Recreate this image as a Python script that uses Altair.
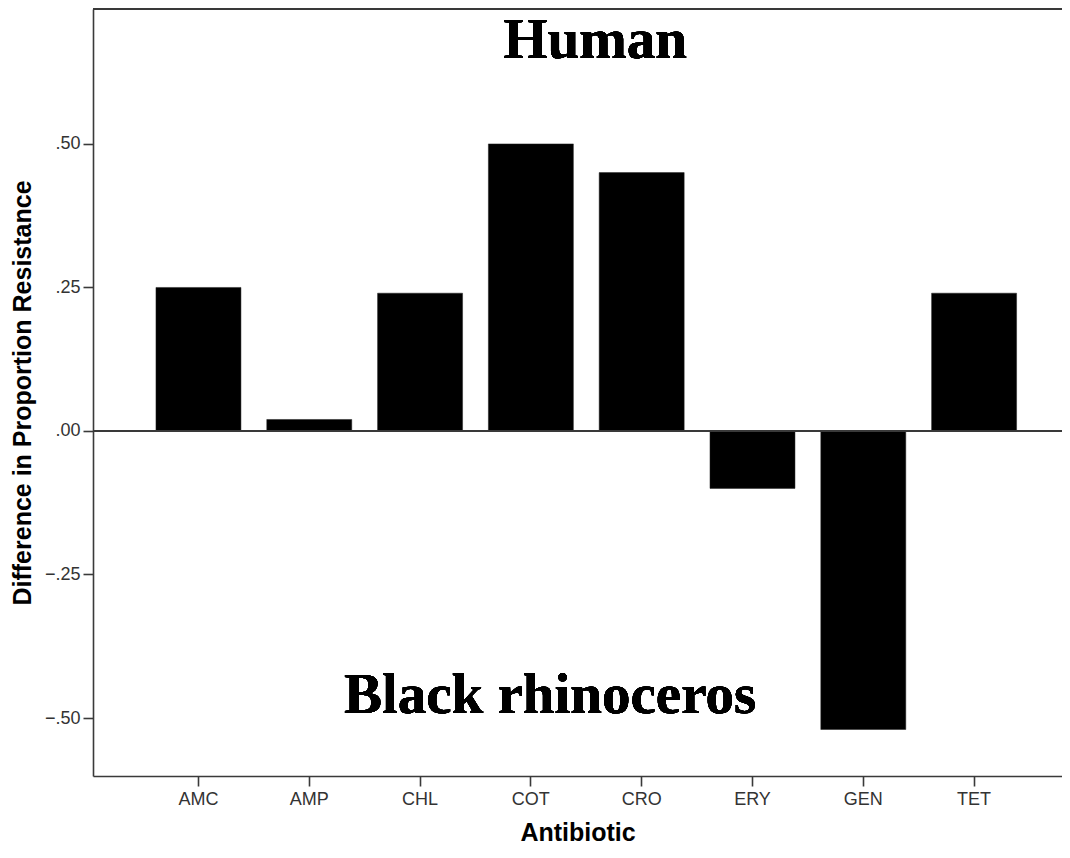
import altair as alt
import pandas as pd

antibiotics = ["AMC", "AMP", "CHL", "COT", "CRO", "ERY", "GEN", "TET"]
differences = [0.25, 0.02, 0.24, 0.50, 0.45, -0.10, -0.52, 0.24]
y_ticks = [-0.5, -0.25, 0.0, 0.25, 0.5]
y_domain = [-0.601, 0.735]
label_top = "Human"
label_bottom = "Black rhinoceros"

df = pd.DataFrame({"Antibiotic": antibiotics, "Difference": differences})

W, H = 969, 767
AX = "#3a3a3a"

x_scale = alt.Scale(paddingInner=0.233, paddingOuter=0.489, align=0.581)
y_scale = alt.Scale(domain=y_domain, nice=False, zero=False)

bars = alt.Chart(df).mark_bar(color="black", stroke="#222", strokeWidth=0.5).encode(
    x=alt.X("Antibiotic:N", scale=x_scale, sort=antibiotics,
            axis=alt.Axis(title="Antibiotic", labelAngle=0, tickSize=10,
                          labelPadding=4, titlePadding=12)),
    y=alt.Y("Difference:Q", scale=y_scale,
            axis=alt.Axis(title="Difference in Proportion Resistance",
                          values=y_ticks, tickSize=10, labelPadding=3,
                          titlePadding=9, grid=False,
                          labelExpr="replace(format(datum.value, '.2f'), '0.', '.')")),
)

zero_line = alt.Chart(df).mark_rule(color=AX, strokeWidth=1.6).encode(
    y=alt.datum(0), x=alt.value(0), x2=alt.value(W)
)

top_line = alt.Chart(df).mark_rule(color=AX, strokeWidth=1.6).encode(
    y=alt.value(0), x=alt.value(0), x2=alt.value(W)
)

text_top = alt.Chart(df).mark_text(
    font="Liberation Serif", fontWeight="bold", fontSize=57, color="black",
    align="center", baseline="alphabetic"
).encode(x=alt.value(502), y=alt.datum(0.650), text=alt.value(label_top))

text_bottom = alt.Chart(df).mark_text(
    font="Liberation Serif", fontWeight="bold", fontSize=57, color="black",
    align="center", baseline="alphabetic"
).encode(x=alt.value(457), y=alt.datum(-0.492), text=alt.value(label_bottom))

chart = alt.layer(bars, zero_line, top_line, text_top, text_bottom).properties(
    width=W, height=H,
    autosize=alt.AutoSizeParams(type="none"),
    padding={"left": 85, "top": 1, "right": 0, "bottom": 73},
    background="white",
).configure_view(stroke=None).configure_axis(
    domainColor=AX, domainWidth=1.6, tickColor=AX, tickWidth=1.6,
    labelFont="Liberation Sans", labelFontSize=18, labelColor="#333333",
    titleFont="Liberation Sans", titleFontSize=25, titleFontWeight="bold",
    titleColor="black",
)

chart.save("out.html", embed_options={"renderer": "svg", "actions": False})
